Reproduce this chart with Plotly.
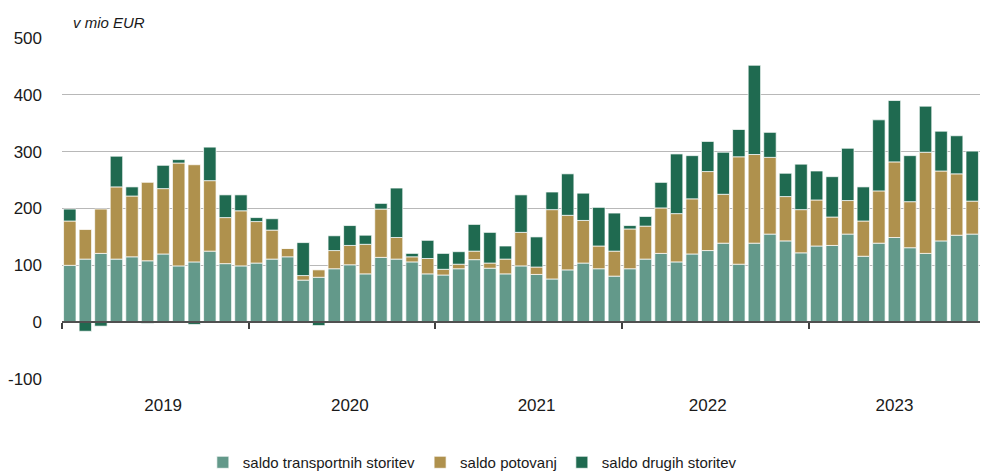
import plotly.graph_objects as go

# Monthly data, Jan 2019 - Nov 2023 (mio EUR)
months = [f"{y}-{m:02d}" for y in range(2019, 2024) for m in range(1, 13)][:59]

transport = [100, 111, 121, 111, 115, 108, 120, 99, 106, 125, 103, 99,
             104, 111, 115, 74, 79, 94, 101, 85, 114, 111, 106, 85,
             83, 94, 110, 95, 85, 99, 84, 76, 92, 104, 94, 81,
             94, 111, 121, 106, 120, 126, 139, 102, 139, 155, 143, 122,
             134, 135, 155, 116, 139, 149, 131, 121, 143, 153, 155]

travel = [78, 52, 78, 127, 107, 138, 115, 181, 171, 124, 81, 97,
          73, 51, 15, 8, 13, 32, 34, 52, 85, 38, 9, 27,
          10, 8, 15, 9, 26, 59, 13, 122, 96, 75, 40, 44,
          70, 58, 80, 85, 97, 139, 86, 189, 156, 135, 78, 76,
          81, 50, 59, 62, 92, 133, 81, 178, 123, 108, 58]

other = [21, -16, -7, 54, 16, -2, 41, 6, -4, 59, 40, 28,
         7, 20, 0, 58, -6, 26, 35, 16, 10, 87, 6, 32,
         28, 22, 47, 54, 23, 66, 53, 31, 73, 48, 68, 67,
         6, 17, 45, 105, 76, 53, 74, 48, 157, 44, 41, 80,
         51, 71, 92, 60, 125, 108, 81, 81, 70, 67, 88]

series_names = ["saldo transportnih storitev", "saldo potovanj", "saldo drugih storitev"]
series_colors = ["#63998A", "#AF914D", "#1F6A50"]

year_labels = ["2019", "2020", "2021", "2022", "2023"]
year_label_pos = [6, 18, 30, 41, 53]
year_bounds = [-0.5, 11.5, 23.5, 35.5, 47.5]

y_ticks = [-100, 0, 100, 200, 300, 400, 500]
y_tick_labels = ["-100", "0", "100", "200", "300", "400", "500"]

FONT = "Liberation Sans, Arial, sans-serif"

x = list(range(len(months)))

fig = go.Figure()
for name, vals, col in zip(series_names, [transport, travel, other], series_colors):
    fig.add_trace(go.Bar(
        x=x, y=vals, name=name,
        marker=dict(color=col, line=dict(color="rgba(255,255,255,0.7)", width=1)),
        customdata=months,
        hovertemplate="%{customdata}: %{y}<extra>" + name + "</extra>",
    ))

# invisible helper trace for the zero-line tick axis
fig.add_trace(go.Scatter(x=[None], y=[None], xaxis="x2", showlegend=False, hoverinfo="skip"))

fig.update_layout(
    width=982, height=472,
    margin=dict(l=62, r=2, t=38, b=93, autoexpand=False),
    barmode="relative",
    bargap=0.2,
    plot_bgcolor="white",
    paper_bgcolor="white",
    font=dict(family=FONT, color="#1a1a1a"),
    xaxis=dict(
        range=[-0.5, len(months) - 0.5], automargin=False,
        tickmode="array", tickvals=year_label_pos, ticktext=year_labels,
        ticks="", showgrid=False, showline=False, zeroline=False,
        tickfont=dict(size=17, family=FONT, color="#1a1a1a"),
        ticklabelstandoff=14,
    ),
    xaxis2=dict(
        overlaying="x", anchor="free", position=1/6, automargin=False,
        range=[-0.5, len(months) - 0.5],
        tickmode="array", tickvals=year_bounds,
        ticks="outside", ticklen=6, tickwidth=1.5, tickcolor="#404040",
        showticklabels=False, showgrid=False, zeroline=False,
        showline=True, linecolor="#505050", linewidth=1.5,
    ),
    yaxis=dict(
        range=[-100, 500], automargin=False,
        tickmode="array", tickvals=y_ticks, ticktext=y_tick_labels,
        ticks="", showgrid=True, gridcolor="#b8b8b8", gridwidth=1,
        zeroline=False, showline=False,
        tickfont=dict(size=17, family=FONT, color="#1a1a1a"),
        ticklabelstandoff=19,
    ),
    legend=dict(
        orientation="h", x=0.447, xanchor="center", y=-0.245, yanchor="middle",
        font=dict(size=15, family=FONT, color="#1a1a1a"),
        traceorder="normal",
    ),
    annotations=[dict(
        text="<i>v mio EUR</i>", xref="paper", yref="paper", x=0, y=1,
        xanchor="left", yanchor="middle", xshift=9, yshift=16, showarrow=False,
        font=dict(size=15, family=FONT, color="#1a1a1a"),
    )],
)

fig.write_html("out.html", config={"displayModeBar": False},
               post_script="document.body.style.margin='0px';")
